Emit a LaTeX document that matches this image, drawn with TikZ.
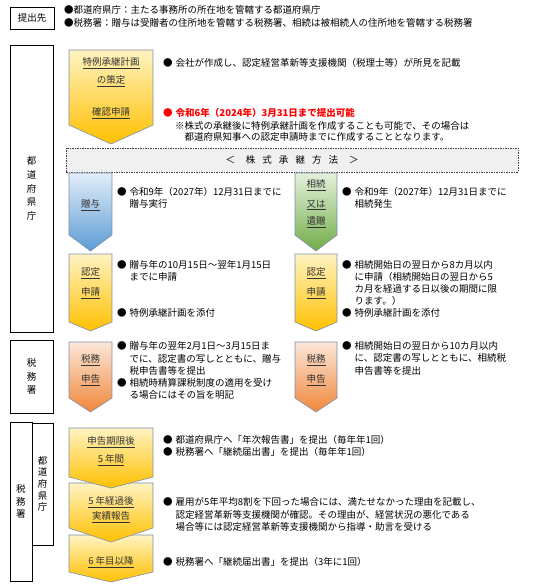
\documentclass[tikz,border=0pt]{standalone}
\usepackage{fontspec}
\setmainfont{Noto Sans CJK JP}
\usepackage{tikz}
\definecolor{framegray}{HTML}{7D8FAA}
\definecolor{goldtop}{HTML}{FFF3C2}
\definecolor{goldbot}{HTML}{FFC000}
\definecolor{bluetop}{HTML}{E3EEF9}
\definecolor{bluebot}{HTML}{5B9BD5}
\definecolor{greentop}{HTML}{E5F1DC}
\definecolor{greenbot}{HTML}{70AD47}
\definecolor{orangetop}{HTML}{FCE7D9}
\definecolor{orangebot}{HTML}{F0873A}
\definecolor{alertred}{HTML}{FF0000}
% pentagon pointing down: style, left x, right x, top, shoulder, tip
\newcommand{\chevron}[6]{%
  \path[#1] (#2,#4) -- (#3,#4) -- (#3,#5) -- ({(#2+#3)/2},#6) -- (#2,#5) -- cycle;}
\newcommand{\dotmark}{●\hspace{3pt}}
\newcommand{\dotgap}{\phantom{●}\hspace{3pt}}

\begin{document}
\begin{tikzpicture}[
  x=1pt, y=-1pt,
  font=\fontsize{9.5}{11.8}\selectfont,
  band/.style={draw=black, line width=0.6pt, inner sep=0pt, align=center},
  note/.style={anchor=north west, inner sep=0pt, align=left},
  steplab/.style={inner sep=0pt, text=black!80},
  goldarr/.style={draw=framegray, line width=0.6pt, top color=goldtop, bottom color=goldbot},
  bluearr/.style={draw=framegray, line width=0.6pt, top color=bluetop, bottom color=bluebot},
  greenarr/.style={draw=framegray, line width=0.6pt, top color=greentop, bottom color=greenbot},
  orangearr/.style={draw=framegray, line width=0.6pt, top color=orangetop, bottom color=orangebot},
  method/.style={draw=black!75, dash pattern=on 1.5pt off 1pt, line width=0.5pt,
                 fill=black!6, inner sep=0pt},
]
\useasboundingbox (0,0) rectangle (551,585);

% ── where to submit ─────────────────────────────────────────────────────────
\node[band, line width=0.8pt, minimum width=44, minimum height=22] (dest) at (32,18) {提出先};
\node[note, font=\fontsize{9.5}{13}\selectfont] (destnote) at (64,5.5)
  {●都道府県庁：主たる事務所の所在地を管轄する都道府県庁\\
   ●税務署：贈与は受贈者の住所地を管轄する税務署、相続は被相続人の住所地を管轄する税務署};

% ── left rail: which office ─────────────────────────────────────────────────
\node[band, minimum width=43, minimum height=287, font=\fontsize{9.5}{13.8}\selectfont]
  (pref) at (31.5,188.5) {都\\道\\府\\県\\庁};
\node[band, minimum width=43, minimum height=73, font=\fontsize{9.5}{13.5}\selectfont]
  (tax) at (31.5,376.5) {税\\務\\署};
\node[band, minimum width=22, minimum height=159, font=\fontsize{9.5}{12.5}\selectfont]
  (taxlow) at (21,501.5) {税\\務\\署};
\node[band, minimum width=21, minimum height=122, font=\fontsize{9.5}{11.6}\selectfont]
  (preflow) at (42.5,484) {都\\道\\府\\県\\庁};

% ── plan ────────────────────────────────────────────────────────────────────
\chevron{goldarr}{69}{153}{50}{125}{144}
\node[steplab] (plan)    at (111,63)  {\underline{特例承継計画}};
\node[steplab] (planb)   at (111,81)  {\underline{の策定}};
\node[steplab] (confirm) at (111,113) {\underline{確認申請}};
\node[note] (plannote) at (163,58.5)
  {\dotmark 会社が作成し、認定経営革新等支援機関（税理士等）が所見を記載};
\node[note, text=alertred, font=\bfseries\fontsize{9.5}{11.8}\selectfont] (deadline) at (163,108.5)
  {\dotmark 令和6年（2024年）3月31日まで提出可能};
\node[note, font=\fontsize{9.5}{10.5}\selectfont] (remark) at (175,121.5)
  {※株式の承継後に特例承継計画を作成することも可能で、その場合は\\
   \phantom{※}都道府県知事への認定申請時までに作成することとなります。};

% ── method of share succession ──────────────────────────────────────────────
\node[method, minimum width=452, minimum height=24] (method) at (292,160)
  {＜\hspace{11pt}株\hspace{7pt}式\hspace{7pt}承\hspace{7pt}継\hspace{7pt}方\hspace{7pt}法\hspace{11pt}＞};

% gift branch
\chevron{bluearr}{69}{112}{173}{235}{251}
\node[steplab] (gift) at (90.5,205) {\underline{贈与}};
\node[note] (giftnote) at (117,187.5)
  {\dotmark 令和9年（2027年）12月31日までに\\ \dotgap 贈与実行};

% inheritance branch
\chevron{greenarr}{295}{337}{173}{235}{251}
\node[steplab] (inh)  at (316,185) {\underline{相続}};
\node[steplab] (inhb) at (316,205) {\underline{又は}};
\node[steplab] (inhc) at (316,222) {\underline{遺贈}};
\node[note] (inhnote) at (342,187.5)
  {\dotmark 令和9年（2027年）12月31日までに\\ \dotgap 相続発生};

% ── certification ───────────────────────────────────────────────────────────
\chevron{goldarr}{69}{112}{254}{322}{331}
\node[steplab] (cert)  at (90.5,273) {\underline{認定}};
\node[steplab] (certb) at (90.5,293) {\underline{申請}};
\node[note] (certnote) at (117,260.5)
  {\dotmark 贈与年の10月15日～翌年1月15日\\ \dotgap までに申請};
\node[note] (certplan) at (117,308.5) {\dotmark 特例承継計画を添付};

\chevron{goldarr}{295}{337}{254}{322}{331}
\node[steplab] (cert2)  at (316,273) {\underline{認定}};
\node[steplab] (cert2b) at (316,293) {\underline{申請}};
\node[note] (cert2note) at (342,260.5)
  {\dotmark 相続開始日の翌日から8カ月以内\\ \dotgap に申請（相続開始日の翌日から5\\
   \dotgap カ月を経過する日以後の期間に限\\ \dotgap ります。）};
\node[note] (cert2plan) at (342,308.5) {\dotmark 特例承継計画を添付};

% ── tax return ──────────────────────────────────────────────────────────────
\chevron{orangearr}{69}{112}{342}{398}{412}
\node[steplab] (ret)  at (90.5,360) {\underline{税務}};
\node[steplab] (retb) at (90.5,380) {\underline{申告}};
\node[note, font=\fontsize{9.5}{12.3}\selectfont] (retnote) at (117,341.5)
  {\dotmark 贈与年の翌年2月1日～3月15日ま\\ \dotgap でに、認定書の写しとともに、贈与\\
   \dotgap 税申告書等を提出\\
   \dotmark 相続時精算課税制度の適用を受け\\ \dotgap る場合にはその旨を明記};

\chevron{orangearr}{295}{337}{342}{398}{412}
\node[steplab] (ret2)  at (316,360) {\underline{税務}};
\node[steplab] (ret2b) at (316,380) {\underline{申告}};
\node[note, font=\fontsize{9.5}{12.3}\selectfont] (ret2note) at (342,341.5)
  {\dotmark 相続開始日の翌日から10カ月以内\\ \dotgap に、認定書の写しとともに、相続税\\
   \dotgap 申告書等を提出};

% ── after the deadline (later box under the earlier tip) ────────────────────
\chevron{goldarr}{69}{153}{535}{572}{582}
\chevron{goldarr}{69}{153}{483}{528}{542}
\chevron{goldarr}{69}{153}{428}{477}{488}
\node[steplab] (five)   at (111,442) {\underline{申告期限後}};
\node[steplab] (fiveb)  at (111,460) {\underline{5 年間}};
\node[steplab] (after)  at (111,502) {\underline{5 年経過後}};
\node[steplab] (afterb) at (111,517) {\underline{実績報告}};
\node[steplab] (sixth)  at (111,562) {\underline{6 年目以降}};
\node[note] (fivenote) at (163,435.5)
  {\dotmark 都道府県庁へ「年次報告書」を提出（毎年年1回）\\
   \dotmark 税務署へ「継続届出書」を提出（毎年年1回）};
\node[note, font=\fontsize{9.5}{12.5}\selectfont] (afternote) at (163,497.5)
  {\dotmark 雇用が5年平均8割を下回った場合には、満たせなかった理由を記載し、\\
   \dotgap 認定経営革新等支援機関が確認。その理由が、経営状況の悪化である\\
   \dotgap 場合等には認定経営革新等支援機関から指導・助言を受ける};
\node[note] (sixthnote) at (163,557.5)
  {\dotmark 税務署へ「継続届出書」を提出（3年に1回）};
\end{tikzpicture}
\end{document}
